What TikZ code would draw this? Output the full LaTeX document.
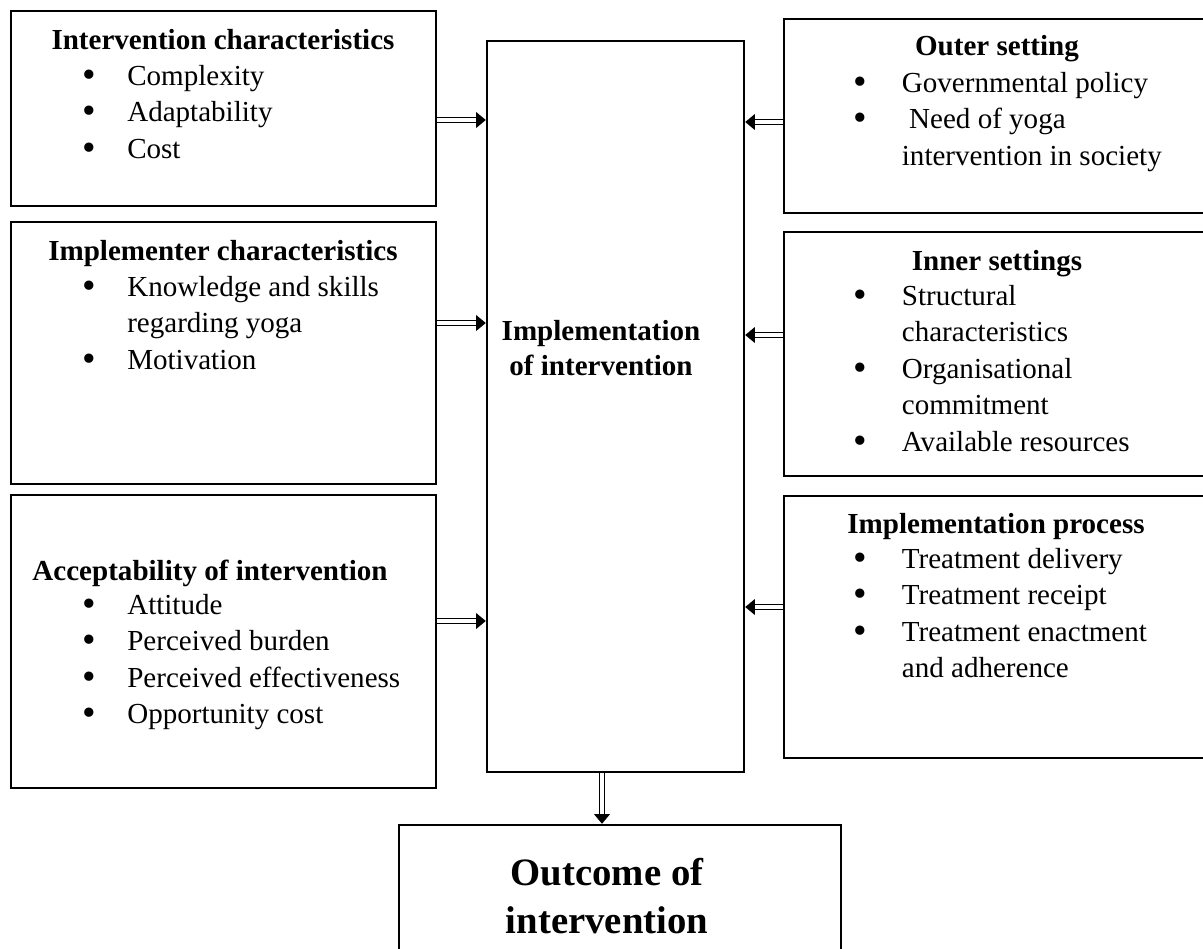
\documentclass[tikz,border=0pt]{standalone}
\usepackage{fontspec}
\setmainfont{Liberation Serif}
\usetikzlibrary{arrows.meta,fit}
\newcommand{\bul}[1][18.5pt]{\makebox[#1][l]{\raisebox{-0.9pt}{\fontsize{16}{16}\selectfont\textbullet}}}
\newcommand{\gap}[1][18.5pt]{\hspace*{#1}}
\newcommand{\lst}[1]{\begin{tabular}[t]{@{}l@{}}#1\end{tabular}}

\begin{document}
\begin{tikzpicture}[x=0.413pt,y=-0.413pt,
  box/.style={draw,line width=1pt,inner sep=0pt},
  head/.style={anchor=base,inner sep=0pt,font=\fontsize{12}{15.1}\selectfont\bfseries},
  list/.style={anchor=base west,inner sep=0pt,font=\fontsize{12}{15.1}\selectfont},
  dbl/.style={double,double distance=1.7pt,line width=0.55pt,-{Triangle[length=4pt,width=6.5pt]}}]
\useasboundingbox (0,0) rectangle (1203,949);

% boxes
\node[box,fit={(11,11) (436,206)}] (ic) {};
\node[box,fit={(11,222) (436,484)}] (imc) {};
\node[box,fit={(11,495) (436,788)}] (acc) {};
\node[box,fit={(487,41) (744,772)}] (mid) {};
\node[box,fit={(784,19) (1212,213)}] (outer) {};
\node[box,fit={(784,232) (1212,476)}] (inner) {};
\node[box,fit={(784,496) (1212,758)}] (proc) {};
\node[box,fit={(399,825) (841,962)}] (out) {};

% left texts
\node[head] (icT) at (223,49) {Intervention characteristics};
\node[list] (icL) at (82,85) {\lst{\bul Complexity\\ \bul Adaptability\\ \bul Cost}};
\node[head] (imcT) at (223,260) {Implementer characteristics};
\node[list] (imcL) at (82,296) {\lst{\bul Knowledge and skills\\ \gap regarding yoga\\ \bul Motivation}};
\node[head] (accT) at (210,580) {Acceptability of intervention};
\node[list] (accL) at (82,614) {\lst{\bul Attitude\\ \bul Perceived burden\\ \bul Perceived effectiveness\\ \bul Opportunity cost}};

% middle
\node[head] (midT) at (601,340) {Implementation};
\node[head] (midT2) at (601,375) {of intervention};
\node[anchor=base,inner sep=0pt,font=\fontsize{16}{19.8}\selectfont\bfseries] (outT) at (607,885) {Outcome of};
\node[anchor=base,inner sep=0pt,font=\fontsize{16}{19.8}\selectfont\bfseries] (outT2) at (607,933) {intervention};

% right texts
\node[head] (outerT) at (997,55) {Outer setting};
\node[list] (outerL) at (853,92) {\lst{\bul[20pt]Governmental policy\\ \bul[20pt]\ Need of yoga\\ \gap[20pt]intervention in society}};
\node[head] (innerT) at (997,270) {Inner settings};
\node[list] (innerL) at (853,305) {\lst{\bul[20pt]Structural\\ \gap[20pt]characteristics\\ \bul[20pt]Organisational\\ \gap[20pt]commitment\\ \bul[20pt]Available resources}};
\node[head] (procT) at (996,533) {Implementation process};
\node[list] (procL) at (853,568) {\lst{\bul[20pt]Treatment delivery\\ \bul[20pt]Treatment receipt\\ \bul[20pt]Treatment enactment\\ \gap[20pt]and adherence}};

% arrows
\coordinate (a1) at (0,120);
\coordinate (a2) at (0,323);
\coordinate (a3) at (0,621);
\coordinate (b1) at (0,122);
\coordinate (b2) at (0,335);
\coordinate (b3) at (0,607);
\coordinate (c1) at (602,0);
\draw[dbl] (ic.east |- a1) -- (mid.west |- a1);
\draw[dbl] (imc.east |- a2) -- (mid.west |- a2);
\draw[dbl] (acc.east |- a3) -- (mid.west |- a3);
\draw[dbl] (outer.west |- b1) -- (mid.east |- b1);
\draw[dbl] (inner.west |- b2) -- (mid.east |- b2);
\draw[dbl] (proc.west |- b3) -- (mid.east |- b3);
\draw[dbl] (mid.south -| c1) -- (out.north -| c1);
\end{tikzpicture}
\end{document}
